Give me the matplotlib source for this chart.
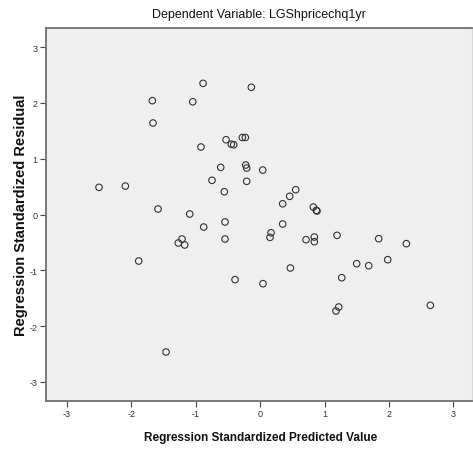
import matplotlib
matplotlib.use('Agg')
import matplotlib.pyplot as plt

plt.rcParams['axes.unicode_minus'] = False

# standardized predicted values and standardized residuals
predicted = [-0.888, -0.138, -1.676, -1.048, -1.665, -0.920, -0.531, -0.449,
             -0.412, -0.278, -0.231, -0.614, -0.225, -0.210, 0.039, -0.749,
             -0.210, -0.558, -2.504, -2.095, -1.587, -1.095, 0.551, 0.458,
             0.349, 0.825, 0.871, 0.882, -0.547, -0.878, 0.349, -0.547,
             0.168, 0.152, 0.711, 0.840, 0.840, 1.193, -1.215, -1.272,
             -1.173, 1.840, 2.270, -1.887, 0.468, 1.498, 1.685, 1.980,
             -0.391, 0.043, 1.266, 1.219, 1.177, 2.642, -1.463]
residual = [2.35, 2.28, 2.04, 2.02, 1.64, 1.21, 1.34, 1.26,
            1.25, 1.38, 1.38, 0.845, 0.887, 0.833, 0.797, 0.613,
            0.595, 0.408, 0.487, 0.510, 0.099, 0.009, 0.444, 0.326,
            0.193, 0.134, 0.075, 0.063, -0.134, -0.224, -0.170, -0.439,
            -0.326, -0.409, -0.451, -0.403, -0.487, -0.373, -0.439, -0.510,
            -0.546, -0.433, -0.522, -0.833, -0.958, -0.881, -0.917, -0.809,
            -1.167, -1.239, -1.132, -1.657, -1.729, -1.627, -2.463]
ticks = [-3, -2, -1, 0, 1, 2, 3]

sans = ['Liberation Sans', 'DejaVu Sans']

fig = plt.figure(figsize=(4.73, 4.52), dpi=100)
ax = fig.add_axes([0.0966, 0.1106, 0.9014, 0.8244])
ax.set_facecolor('#efefef')

ax.scatter(predicted, residual, s=22, facecolors='none',
           edgecolors='#333333', linewidths=0.8, zorder=3)

ax.set_xlim(-3.332, 3.29)
ax.set_ylim(-3.341, 3.335)
ax.set_xticks(ticks)
ax.set_yticks(ticks)
ax.tick_params(direction='out', length=4, width=0.8, color='#444444',
               labelsize=6.5, labelcolor='#333333', pad=2)
for lbl in ax.get_xticklabels() + ax.get_yticklabels():
    lbl.set_family(sans)

for side in ['left', 'bottom', 'top']:
    ax.spines[side].set_color('#6f6f6f')
    ax.spines[side].set_linewidth(1.3)
ax.spines['right'].set_color('#d8d8d8')
ax.spines['right'].set_linewidth(0.8)

ax.set_title('Dependent Variable: LGShpricechq1yr', family=sans,
             fontsize=9, color='#111111', y=1.038, va='center', pad=0)
ax.set_xlabel('Regression Standardized Predicted Value', family=sans,
              fontsize=8.5, fontweight='bold', color='#111111', va='center')
ax.xaxis.set_label_coords(0.504, -0.097)
ax.set_ylabel('Regression Standardized Residual', family=sans,
              fontsize=10.5, fontweight='bold', color='#111111', va='center')
ax.yaxis.set_label_coords(-0.058, 0.5)

fig.savefig('out.png', dpi=100)
